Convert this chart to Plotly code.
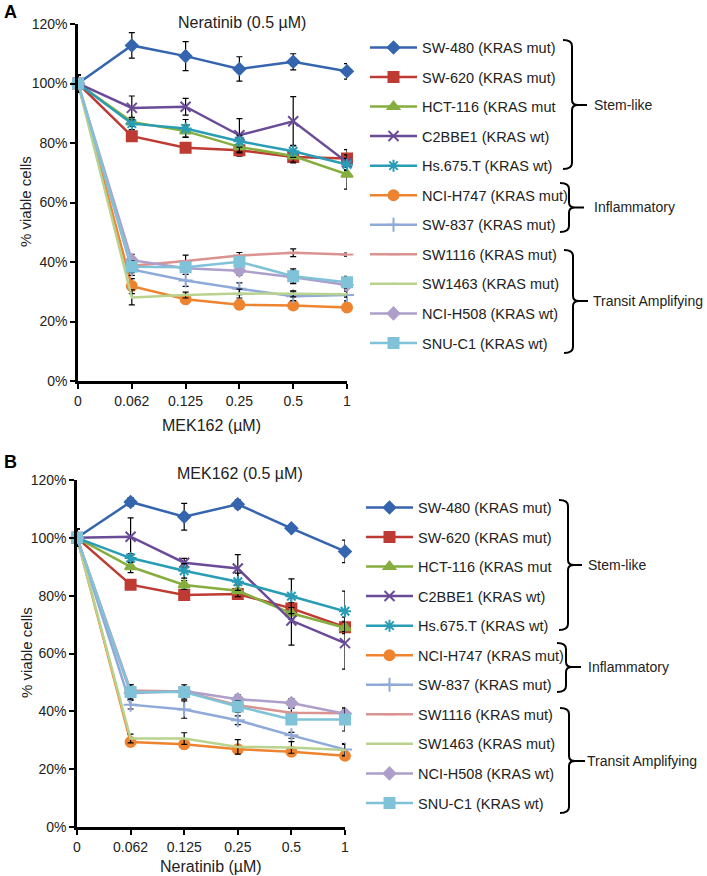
import plotly.graph_objects as go

W, H = 707, 876
FONT = "Liberation Sans, Arial, sans-serif"

# ---------------- data ----------------
dose_labels = ["0", "0.062", "0.125", "0.25", "0.5", "1"]
y_tick_vals = [0, 20, 40, 60, 80, 100, 120]
y_tick_text = ["0%", "20%", "40%", "60%", "80%", "100%", "120%"]

cell_lines = ["SW-480 (KRAS mut)", "SW-620 (KRAS mut)", "HCT-116 (KRAS mut",
              "C2BBE1 (KRAS wt)", "Hs.675.T (KRAS wt)", "NCI-H747 (KRAS mut)",
              "SW-837 (KRAS mut)", "SW1116 (KRAS mut)", "SW1463 (KRAS mut)",
              "NCI-H508 (KRAS wt)", "SNU-C1 (KRAS wt)"]

# Panel A: MEK162 titration with Neratinib fixed at 0.5 uM
a_sw480 = [100, 112.8, 109.2, 104.9, 107.3, 104.1]
a_sw620 = [100, 82.3, 78.4, 77.6, 75.3, 74.8]
a_hct116 = [100, 87.1, 84.0, 78.7, 75.6, 69.5]
a_c2bbe1 = [100, 91.8, 92.2, 82.6, 87.3, 73.5]
a_hs675 = [100, 86.5, 84.9, 80.6, 77.2, 72.8]
a_h747 = [100, 31.9, 27.5, 25.6, 25.4, 24.7]
a_sw837 = [100, 37.5, 33.8, 31.0, 28.5, 28.9]
a_sw1116 = [100, 38.7, 40.3, 42.2, 43.1, 42.5]
a_sw1463 = [100, 28.1, 28.9, 29.4, 29.3, 29.2]
a_h508 = [100, 40.6, 37.9, 37.1, 34.9, 32.3]
a_snuc1 = [100, 38.4, 38.2, 40.1, 35.2, 33.2]

a_sw480_err = [3, 4.3, 4.9, 4.1, 2.7, 2.6]
a_sw620_err = [3, 1.5, 1.5, 2, 2, 3]
a_hct116_err = [3, 1.5, 2, 2, 2, 5]
a_c2bbe1_err = [3, 4, 2.8, 5.6, 8.3, 2.5]
a_hs675_err = [3, 2, 3, 2, 2, 2]
a_h747_err = [3, 2.5, 1.5, 1.5, 1, 1.5]
a_sw837_err = [3, 2, 2, 2, 1.5, 2]
a_sw1116_err = [3, 1, 2, 1, 1.3, 0.5]
a_sw1463_err = [3, 2.5, 1, 1.5, 1, 1]
a_h508_err = [3, 2, 1.5, 1.5, 2, 1.5]
a_snuc1_err = [3, 2, 1.5, 1.5, 2.5, 2]

# Panel B: Neratinib titration with MEK162 fixed at 0.5 uM
b_sw480 = [100, 112.4, 107.3, 111.6, 103.3, 95.3]
b_sw620 = [100, 83.8, 80.2, 80.6, 75.6, 69.1]
b_hct116 = [100, 90.0, 83.7, 81.7, 73.9, 68.9]
b_c2bbe1 = [100, 100.4, 91.4, 89.4, 71.4, 63.6]
b_hs675 = [100, 93.0, 88.6, 84.8, 79.8, 74.6]
b_h747 = [100, 29.4, 28.6, 26.9, 26.0, 24.6]
b_sw837 = [100, 42.3, 40.6, 36.9, 31.7, 26.8]
b_sw1116 = [100, 47.2, 46.9, 42.1, 39.5, 39.3]
b_sw1463 = [100, 30.6, 30.6, 27.7, 27.5, 26.6]
b_h508 = [100, 46.3, 47.0, 44.2, 42.9, 39.2]
b_snuc1 = [100, 46.7, 46.7, 41.7, 37.2, 37.2]

b_sw480_err = [3, 1.5, 4.6, 1.5, 1, 3.9]
b_sw620_err = [3, 1.5, 1.5, 1.5, 2, 2]
b_hct116_err = [3, 2, 1.5, 2, 2, 2]
b_c2bbe1_err = [3, 6.5, 1.5, 4.8, 8.5, 9]
b_hs675_err = [3, 1.5, 2.5, 3, 6, 7]
b_h747_err = [3, 1, 1.5, 1, 1, 1]
b_sw837_err = [3, 1.5, 3, 1.5, 1, 2]
b_sw1116_err = [3, 2, 1.5, 1.5, 1.5, 1.5]
b_sw1463_err = [3, 1.5, 2, 2.5, 2, 2]
b_h508_err = [3, 1.5, 1.5, 1.5, 1.5, 1.5]
b_snuc1_err = [3, 2.5, 2.5, 2, 1.5, 4]

panel_a = [a_sw480, a_sw620, a_hct116, a_c2bbe1, a_hs675, a_h747, a_sw837,
           a_sw1116, a_sw1463, a_h508, a_snuc1]
panel_a_err = [a_sw480_err, a_sw620_err, a_hct116_err, a_c2bbe1_err, a_hs675_err,
               a_h747_err, a_sw837_err, a_sw1116_err, a_sw1463_err, a_h508_err,
               a_snuc1_err]
panel_b = [b_sw480, b_sw620, b_hct116, b_c2bbe1, b_hs675, b_h747, b_sw837,
           b_sw1116, b_sw1463, b_h508, b_snuc1]
panel_b_err = [b_sw480_err, b_sw620_err, b_hct116_err, b_c2bbe1_err, b_hs675_err,
               b_h747_err, b_sw837_err, b_sw1116_err, b_sw1463_err, b_h508_err,
               b_snuc1_err]

group_labels = ["Stem-like", "Inflammatory", "Transit Amplifying"]

# ---------------- styles ----------------
colors = ["#3465AE", "#BE3B33", "#86AE3E", "#6A4B98", "#2A9DB6", "#EE8430",
          "#8FAAD8", "#DA9391", "#B9D38F", "#AE9ECA", "#80C3D8"]
symbols = ["diamond", "square", "triangle-up", "x-thin-open", "asterisk-open",
           "circle", "cross-thin-open", "line-ew-open", "line-ew-open",
           "diamond", "square"]
sizes = [9, 10, 10, 10, 10, 10, 10, 9, 1, 9, 10]


def px(x):
    return x / W


def py(y):
    return 1 - y / H


fig = go.Figure()

x_idx = list(range(len(dose_labels)))

for panel, data, errs, xa, ya, lg in [("A", panel_a, panel_a_err, "x", "y", "legend"),
                                       ("B", panel_b, panel_b_err, "x2", "y2", "legend2")]:
    for i, name in enumerate(cell_lines):
        fig.add_trace(go.Scatter(
            x=x_idx, y=data[i], name=name, mode="lines+markers",
            xaxis=xa, yaxis=ya, legend=lg, legendgroup=f"{panel}{i}",
            line=dict(color=colors[i], width=2.5),
            marker=dict(symbol=symbols[i], size=sizes[i], color=colors[i],
                        line=dict(color=colors[i], width=2)),
            error_y=dict(type="data", array=errs[i], visible=True,
                         color="black", thickness=1.2, width=3),
            cliponaxis=False,
        ))

axis_common = dict(showgrid=False, zeroline=False, showline=True, linecolor="black",
                   linewidth=2.5, ticks="outside", ticklen=5, tickwidth=2,
                   tickcolor="black", automargin=False,
                   tickfont=dict(family=FONT, size=14, color="#222"))

xa_dom = [px(78), px(347)]
xb_dom = [px(77), px(345)]
ya_dom = [py(381), py(24)]
yb_dom = [py(827), py(480)]

legend_common = dict(xanchor="left", yanchor="top",
                     font=dict(family=FONT, size=14.5, color="#222"),
                     tracegroupgap=7.7, itemwidth=47, bgcolor="rgba(0,0,0,0)")

fig.update_layout(
    width=W, height=H,
    margin=dict(l=0, r=0, t=0, b=0, autoexpand=False),
    paper_bgcolor="white", plot_bgcolor="white",
    font=dict(family=FONT, size=14, color="#222"),
    xaxis=dict(domain=xa_dom, range=[0, 5], tickvals=x_idx, ticktext=dose_labels,
               anchor="y", **axis_common),
    yaxis=dict(domain=ya_dom, range=[0, 120], tickvals=y_tick_vals,
               ticktext=y_tick_text, anchor="x", **axis_common),
    xaxis2=dict(domain=xb_dom, range=[0, 5], tickvals=x_idx, ticktext=dose_labels,
                anchor="y2", **axis_common),
    yaxis2=dict(domain=yb_dom, range=[0, 120], tickvals=y_tick_vals,
                ticktext=y_tick_text, anchor="x2", **axis_common),
    legend=dict(x=px(365), y=py(31.5), **legend_common),
    legend2=dict(x=px(361), y=py(491.5), **legend_common),
    showlegend=True,
)

annotations = [
    dict(text="<b>A</b>", x=px(2), y=py(12), xanchor="left", yanchor="middle",
         font=dict(size=18, color="black")),
    dict(text="<b>B</b>", x=px(2), y=py(462), xanchor="left", yanchor="middle",
         font=dict(size=18, color="black")),
    dict(text="Neratinib (0.5 µM)", x=px(242), y=py(23), xanchor="center",
         yanchor="middle", font=dict(size=16)),
    dict(text="MEK162 (0.5 µM)", x=px(240), y=py(473), xanchor="center",
         yanchor="middle", font=dict(size=16)),
    dict(text="MEK162 (µM)", x=px(212), y=py(425), xanchor="center",
         yanchor="middle", font=dict(size=16)),
    dict(text="Neratinib (µM)", x=px(211), y=py(866), xanchor="center",
         yanchor="middle", font=dict(size=16)),
    dict(text="% viable cells", x=px(26), y=py(202), textangle=-90,
         xanchor="center", yanchor="middle", font=dict(size=15)),
    dict(text="% viable cells", x=px(26), y=py(653), textangle=-90,
         xanchor="center", yanchor="middle", font=dict(size=15)),
]
for a in annotations:
    a.update(xref="paper", yref="paper", showarrow=False)


def bracket(xv, top, bot, mid, tip):
    r = 6
    pts = [
        f"M {px(xv - 9)} {py(top)}",
        f"Q {px(xv)} {py(top)} {px(xv)} {py(top + r)}",
        f"L {px(xv)} {py(mid - 5)}",
        f"Q {px(xv)} {py(mid)} {px(xv + 6)} {py(mid)}",
        f"L {px(tip)} {py(mid)}",
        f"M {px(xv + 6)} {py(mid)}",
        f"Q {px(xv)} {py(mid)} {px(xv)} {py(mid + 5)}",
        f"L {px(xv)} {py(bot - r)}",
        f"Q {px(xv)} {py(bot)} {px(xv - 9)} {py(bot)}",
    ]
    return dict(type="path", xref="paper", yref="paper", path=" ".join(pts),
                line=dict(color="black", width=2))


shapes = []
brackets_a = [(572, 40, 169, 105, 587, 592), (569, 183, 232, 207.5, 584, 592),
              (573, 250, 353, 301, 588, 591)]
brackets_b = [(568, 500, 630, 565, 582, 586), (566, 643, 692, 667, 581, 586),
              (569, 708, 813, 761, 585, 585)]
for label, ba, bb in zip(group_labels, brackets_a, brackets_b):
    for (xv, top, bot, mid, tip, lx) in (ba, bb):
        shapes.append(bracket(xv, top, bot, mid, tip))
        annotations.append(dict(text=label, x=px(lx), y=py(mid), xref="paper",
                                yref="paper", xanchor="left", yanchor="middle",
                                showarrow=False, font=dict(size=14)))

fig.update_layout(annotations=annotations, shapes=shapes)

fig.write_html("out.html", config={"displayModeBar": False},
               post_script="document.body.style.margin='0';")
